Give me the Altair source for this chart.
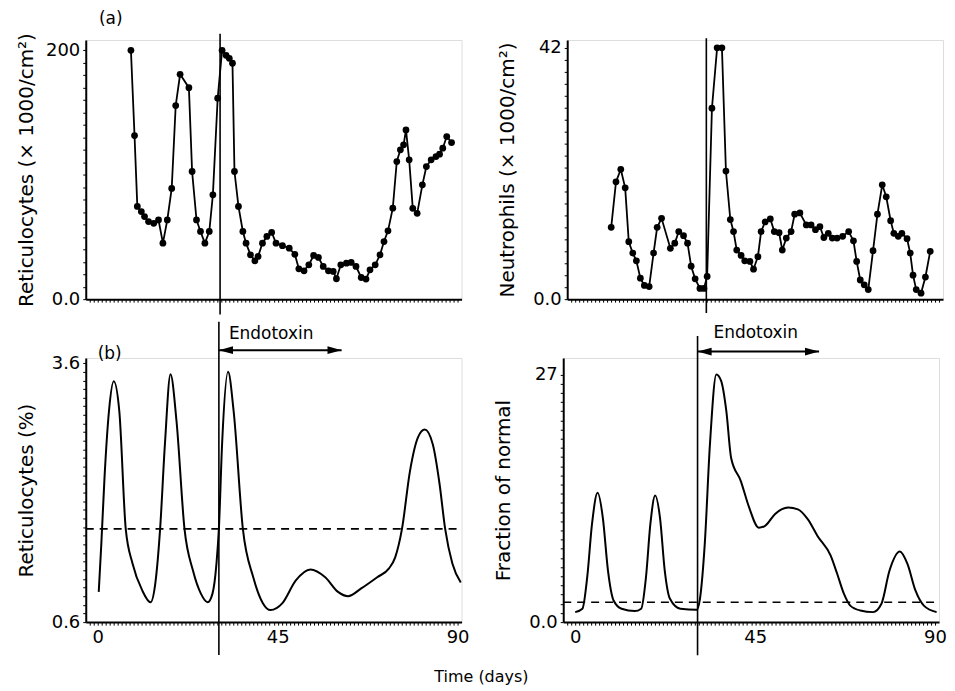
import altair as alt
import pandas as pd

FONT = "DejaVu Sans"

# ---------------- data ----------------
# (a) left: reticulocytes (x 1000/cm^2)
ret_day = [8.3, 9.2, 9.9, 10.9, 11.7, 12.7, 14.0, 15.2, 16.3, 17.4, 18.5, 19.5, 20.6, 22.8,
           23.6, 24.7, 25.7, 26.8, 27.9, 28.8, 30.0, 31.1, 32.1, 32.9, 33.7, 34.2, 35.2, 36.3,
           37.1, 38.2, 39.3, 40.1, 41.2, 42.3, 43.5, 44.6, 46.2, 47.9, 49.3, 50.3, 51.6, 52.8,
           54.0, 55.2, 56.4, 57.7, 58.9, 59.7, 60.8, 62.2, 63.4, 64.6, 65.9, 67.1, 68.1, 69.4,
           70.6, 71.6, 72.6, 73.8, 74.8, 75.7, 76.5, 77.1, 77.9, 78.8, 79.9, 81.2, 82.2, 83.4,
           84.6, 85.5, 86.3, 87.3, 88.5]
ret_val = [200, 131.5, 74.5, 70.4, 66.4, 62.4, 61, 63.7, 45, 63.7, 89, 155.6, 180.7, 170,
           102.6, 63.7, 54.4, 45, 54.4, 83.9, 161.5, 200, 196, 193.6, 189.6, 102.6, 74.5, 54.4,
           45, 35.6, 30.8, 34.3, 45, 50.4, 53.6, 45, 43, 41, 36, 24.4, 22.8, 27.6,
           35.1, 33.5, 26.3, 22.8, 22.3, 16.4, 27.6, 28.9, 29.5, 26.3, 17.4, 16.1, 23.6, 27.6,
           35.6, 46.3, 54.9, 73.1, 110.6, 120, 124, 136, 112, 73, 69, 91.9, 106.6, 112,
           114.6, 116.5, 121.3, 130.7, 125.9]

# (a) right: neutrophils (x 1000/cm^2)
neu_day = [8.0, 9.2, 10.4, 11.5, 12.4, 13.4, 14.3, 15.3, 16.3, 17.5, 18.6, 19.5, 20.6, 22.8,
           23.9, 24.9, 26.1, 27.1, 28.0, 29.0, 30.2, 31.2, 32.0, 33.2, 34.5, 35.7, 36.7, 37.8,
           38.6, 39.4, 40.5, 41.4, 42.7, 43.6, 44.7, 45.5, 46.5, 47.8, 48.8, 50.0, 50.8, 51.8,
           53.0, 53.9, 55.2, 56.8, 58.0, 59.1, 60.2, 61.2, 62.3, 63.3, 64.5, 65.9, 67.4, 68.6,
           69.4, 70.3, 71.3, 72.3, 73.5, 74.6, 75.8, 76.8, 77.9, 78.7, 79.8, 80.7, 82.0, 82.8,
           83.5, 84.3, 85.5, 86.6, 87.8]
neu_val = [12.0, 19.6, 21.7, 18.6, 9.6, 7.7, 6.4, 3.5, 2.3, 2.1, 7.7, 12.0, 13.5, 8.5,
           9.35, 11.3, 10.6, 9.35, 5.5, 3.4, 1.8, 1.8, 3.8, 31.9, 42, 42, 21.4, 13.3,
           11.3, 8.2, 7.3, 6.4, 6.3, 5.0, 7.1, 11.3, 12.9, 13.4, 11.3, 11.1, 8.2, 10.2,
           11.3, 14.2, 14.4, 12.4, 12.4, 11.6, 12.1, 10.3, 11.0, 10.2, 10.2, 10.5, 11.3, 9.75,
           6.3, 3.2, 2.4, 1.6, 8.1, 14.2, 19.1, 17.1, 13.1, 11.0, 10.5, 11.0, 10.1, 7.7,
           4.0, 1.6, 1.0, 3.7, 8.0]

# (b) left: model reticulocytes (%)
retp_day = [0.25, 0.9, 1.7, 2.8, 4.0, 5.4, 7.0, 8.7, 11.1, 13.2, 14.4, 15.6, 16.8, 18.2,
            19.7, 21.7, 23.8, 25.8, 27.5, 28.7, 29.7, 30.3, 31.1, 32.6, 34.0, 36.3, 38.9,
            41.3, 43.2, 46.2, 49.5, 53.2, 56.9, 60.1, 62.6, 65.9, 69.9, 72.8, 74.4, 76.1,
            78.1, 80.1, 81.8, 83.8, 85.5, 86.9, 88.7, 90.8]
retp_val = [0.95, 1.51, 2.28, 3.04, 3.39, 3.04, 1.68, 1.28, 0.97, 0.83, 1.05, 1.68, 2.66, 3.47,
            2.93, 1.68, 1.2, 0.93, 0.83, 0.93, 1.28, 1.68, 2.66, 3.5, 3.04, 1.68, 1.12,
            0.82, 0.74, 0.82, 1.08, 1.21, 1.12, 0.95, 0.9, 0.99, 1.12, 1.22, 1.35, 1.68,
            2.35, 2.74, 2.83, 2.66, 2.2, 1.68, 1.28, 1.06]

# (b) right: model neutrophils, fraction of normal
frac_day = [0.0, 1.8, 3.0, 4.2, 5.6, 6.9, 8.2, 9.6, 11.6, 14.9, 16.5, 17.7, 18.8, 20.0,
            21.2, 22.4, 23.7, 26.3, 30.4, 31.2, 32.4, 33.7, 35.3, 36.5, 37.8, 39.0, 41.4,
            43.5, 45.9, 47.5, 50.0, 53.3, 55.7, 58.2, 60.6, 63.9, 65.5, 67.2, 68.8, 71.3,
            74.5, 76.6, 78.6, 81.2, 83.1, 85.1, 87.2, 90.4]
frac_val = [1.09, 1.46, 4.9, 10.7, 14.1, 11.4, 5.6, 2.36, 1.46, 1.2, 1.46, 4.9, 10.7, 13.8,
            11.4, 5.6, 2.54, 1.46, 1.35, 2.54, 8.5, 19.4, 27.0, 26.3, 23.0, 17.9, 15.4,
            12.5, 10.3, 10.5, 11.8, 12.5, 12.3, 11.2, 9.4, 7.25, 5.3, 3.1, 1.8, 1.27,
            1.09, 2.0, 5.6, 7.7, 6.35, 3.45, 1.8, 1.09]

ret_normal_pct = 1.68      # dashed reference, panel (b) left
frac_normal = 2.17         # dashed reference, panel (b) right
endotoxin_start = {"tl": 30.6, "tr": 31.8, "bl": 30.3, "br": 30.6}
endotoxin_end = 61.0

X_DOMAIN = [-3, 91]
W = 377
H_TOP = 260
H_BOT = 265


def frange(a, b, step, nd):
    out = []
    v = a
    while v <= b + 1e-9:
        out.append(round(v, nd))
        v += step
    return out


def x_enc(show_labels):
    if show_labels:
        ax = alt.Axis(values=list(range(-2, 91)), tickSize=3, tickColor="black",
                      domainColor="black", domainWidth=2, grid=False, title=None,
                      labelExpr="datum.value == 0 || datum.value == 45 || datum.value == 90 ? datum.label : ''",
                      labelFont=FONT, labelFontSize=18, labelColor="black", labelPadding=3,
                      labelFlush=False, labelOverlap=False)
    else:
        ax = alt.Axis(values=list(range(-2, 91)), tickSize=3, tickColor="black",
                      domainColor="black", domainWidth=2, grid=False, title=None, labels=False)
    return alt.X("day:Q", scale=alt.Scale(domain=X_DOMAIN, nice=False, zero=False), axis=ax)


def y_enc(title, domain, ticks, lab_lo, lab_hi, tpad):
    lo, hi = ticks[0], ticks[-1]
    expr = f"datum.value == {lo} ? '{lab_lo}' : (datum.value == {hi} ? '{lab_hi}' : '')"
    ax = alt.Axis(values=ticks, tickSize=3, tickColor="black", domainColor="black",
                  domainWidth=2, grid=False, title=title, labelExpr=expr,
                  labelFont=FONT, labelFontSize=18, labelColor="black", labelPadding=3,
                  labelOverlap=False, labelFlush=False,
                  titleFont=FONT, titleFontSize=20, titleFontWeight="normal",
                  titleColor="black", titlePadding=tpad)
    return alt.Y("val:Q", scale=alt.Scale(domain=domain, nice=False, zero=False), axis=ax)


def vline(y_enc_, show, day, ylo, yhi):
    df = pd.DataFrame({"day": [day], "val": [ylo], "val2": [yhi]})
    return alt.Chart(df).mark_rule(color="black", strokeWidth=1.6).encode(
        x=x_enc(show), y=y_enc_, y2="val2:Q")


def label(y_enc_, show, text, day, val, size=17, align="left"):
    df = pd.DataFrame({"day": [day], "val": [val], "t": [text]})
    return alt.Chart(df).mark_text(font=FONT, fontSize=size, align=align, baseline="middle",
                                   color="black").encode(x=x_enc(show), y=y_enc_, text="t:N")


def arrow(y_enc_, show, d0, d1, val):
    df = pd.DataFrame({"day": [d0], "day2": [d1], "val": [val]})
    shaft = alt.Chart(df).mark_rule(color="black", strokeWidth=2).encode(
        x=x_enc(show), x2="day2:Q", y=y_enc_)
    hl = alt.Chart(pd.DataFrame({"day": [d0], "val": [val]})).mark_point(
        shape="M2,-0.55L0,0L2,0.55Z", filled=True, size=200, color="black", opacity=1
    ).encode(x=x_enc(show), y=y_enc_)
    hr = alt.Chart(pd.DataFrame({"day": [d1], "val": [val]})).mark_point(
        shape="M-2,-0.55L0,0L-2,0.55Z", filled=True, size=200, color="black", opacity=1
    ).encode(x=x_enc(show), y=y_enc_)
    return shaft + hl + hr


# ---------------- top-left ----------------
y_tl = y_enc("Reticulocytes (× 1000/cm²)", [0, 208.3], frange(0, 200, 10, 0), "0.0", "200", 9)
df_tl = pd.DataFrame({"day": ret_day, "val": ret_val})
tl = (
    alt.Chart(df_tl).mark_line(color="black", strokeWidth=1.8).encode(x=x_enc(False), y=y_tl)
    + alt.Chart(df_tl).mark_point(filled=True, size=46, color="black", opacity=1).encode(x=x_enc(False), y=y_tl)
    + vline(y_tl, False, endotoxin_start["tl"], -12.3, 213.4)
    + label(y_tl, False, "(a)", 0.3, 225)
).properties(width=W, height=H_TOP)

# ---------------- top-right ----------------
y_tr = y_enc("Neutrophils (× 1000/cm²)", [0, 43.3], frange(0, 42, 2, 0), "0.0", "42", 15)
df_tr = pd.DataFrame({"day": neu_day, "val": neu_val})
tr = (
    alt.Chart(df_tr).mark_line(color="black", strokeWidth=1.8).encode(x=x_enc(False), y=y_tr)
    + alt.Chart(df_tr).mark_point(filled=True, size=46, color="black", opacity=1).encode(x=x_enc(False), y=y_tr)
    + vline(y_tr, False, endotoxin_start["tr"], -2.3, 43.6)
).properties(width=W, height=H_TOP)

# ---------------- bottom-left ----------------
y_bl = y_enc("Reticulocytes (%)", [0.6, 3.66], frange(0.6, 3.6, 0.1, 1), "0.6", "3.6", 15)
df_bl = pd.DataFrame({"day": retp_day, "val": retp_val})
df_bl_norm = pd.DataFrame({"day": [X_DOMAIN[0], X_DOMAIN[1]], "val": [ret_normal_pct] * 2})
bl = (
    alt.Chart(df_bl).mark_line(color="black", strokeWidth=2, interpolate="monotone").encode(x=x_enc(True), y=y_bl)
    + alt.Chart(df_bl_norm).mark_line(color="black", strokeWidth=1.6, strokeDash=[8, 6]).encode(x=x_enc(True), y=y_bl)
    + vline(y_bl, True, endotoxin_start["bl"], 0.22, 4.08)
    + arrow(y_bl, True, endotoxin_start["bl"], endotoxin_end, 3.75)
    + label(y_bl, True, "Endotoxin", 32.8, 3.94)
    + label(y_bl, True, "(b)", 0.0, 3.71)
).properties(width=W, height=H_BOT)

# ---------------- bottom-right ----------------
y_br = y_enc("Fraction of normal", [0, 28.8], frange(0, 27, 1, 0), "0.0", "27", 15)
df_br = pd.DataFrame({"day": frac_day, "val": frac_val})
df_br_norm = pd.DataFrame({"day": [X_DOMAIN[0], X_DOMAIN[1]], "val": [frac_normal] * 2})
br = (
    alt.Chart(df_br).mark_line(color="black", strokeWidth=2, interpolate="monotone").encode(x=x_enc(True), y=y_br)
    + alt.Chart(df_br_norm).mark_line(color="black", strokeWidth=1.6, strokeDash=[8, 6]).encode(x=x_enc(True), y=y_br)
    + vline(y_br, True, endotoxin_start["br"], -3.6, 31.2)
    + arrow(y_br, True, endotoxin_start["br"], endotoxin_end, 29.5)
    + label(y_br, True, "Endotoxin", 34.6, 31.5)
).properties(width=W, height=H_BOT)

top = alt.hconcat(tl, tr, spacing=34)
bottom = alt.hconcat(bl, br, spacing=23)

chart = alt.vconcat(
    top, bottom, spacing=4,
    title=alt.TitleParams(text="Time (days)", orient="bottom", anchor="middle", font=FONT,
                          fontSize=16, fontWeight="normal", color="black", offset=13),
).properties(
    padding={"left": 7, "top": 0, "right": 0, "bottom": 0}
).configure_view(stroke=None).configure(background="white")

chart.save("out.html", embed_options={"renderer": "svg", "actions": False})
